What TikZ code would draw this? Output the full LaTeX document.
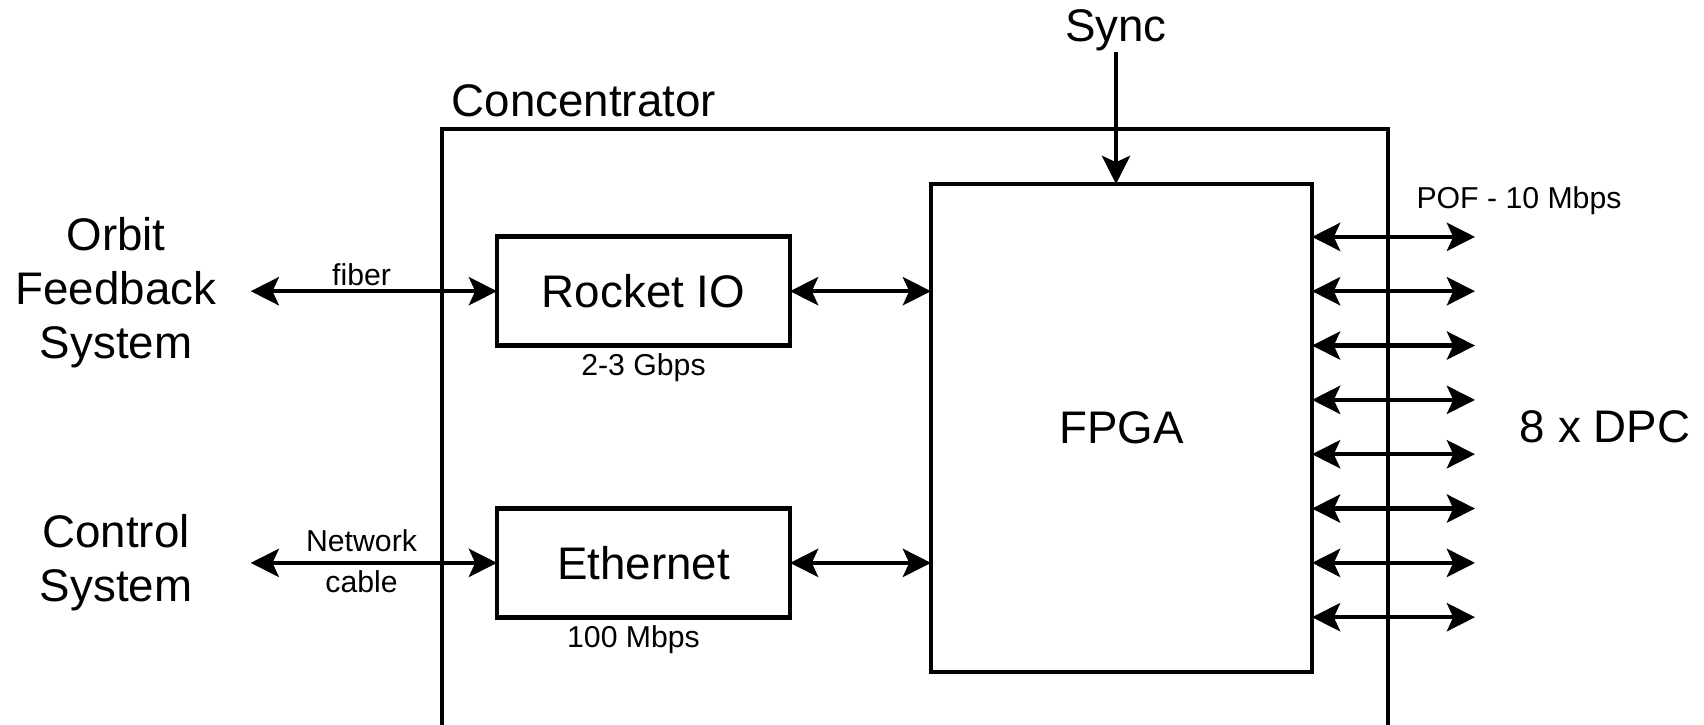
\documentclass[tikz,border=0pt]{standalone}
\usepackage{fontspec}
\setmainfont{Liberation Sans}
\usetikzlibrary{arrows.meta, calc, positioning}
\newcommand{\lineWidth}{1.25pt}
\newcommand{\bigFont}{\fontsize{13}{15.4}\selectfont}
\newcommand{\smallFont}{\fontsize{8.6}{10.8}\selectfont}
\newcommand{\portX}{14.75}
\newcommand{\portTop}{4.881}
\newcommand{\portStep}{0.5433}
\definecolor{lineColor}{RGB}{0, 0, 0}
\tikzset{>={Stealth[length=8pt, width=8pt, inset=1.8pt]}}
\tikzstyle{block}=[draw=lineColor, line width=\lineWidth, inner sep=0, outer sep=0, font=\bigFont]
\tikzstyle{textNode}=[draw=none, inner sep=0, align=center, text=lineColor, font=\bigFont]
\tikzstyle{smallText}=[draw=none, inner sep=0, align=center, text=lineColor, font=\smallFont]
\tikzstyle{line}=[draw=lineColor, line width=\lineWidth]
\tikzstyle{arrow}=[line, ->]
\tikzstyle{biarrow}=[line, <->]

\begin{document}
\begin{tikzpicture}[]

% Frame
\useasboundingbox (0,0) rectangle (17.04,7.25);

% Concentrator (runs off the bottom)
\node[block, anchor=north west, minimum width=9.46cm, minimum height=7cm] (concentrator) at (4.42,5.96) {};
\node[textNode, anchor=base west] (concLabel) at ($(concentrator.north west)+(0.09,0.125)$) {Concentrator};

% Blocks
\node[block, minimum width=3.81cm, minimum height=4.88cm] (fpga) at (11.215,2.97) {FPGA};
\node[block, minimum width=2.93cm, minimum height=1.09cm] (rocket) at (6.435,4.338) {Rocket IO};
\node[block, minimum width=2.93cm, minimum height=1.09cm] (ethernet) at (6.435,1.621) {Ethernet};
\node[smallText, below=0.07cm of rocket] (rocketRate) {2-3 Gbps};
\node[smallText, below=0.07cm of ethernet, xshift=-1mm] (ethRate) {100 Mbps};

% Outside systems
\node[textNode, minimum width=2.68cm] (orbit) at (1.16,4.32) {Orbit\\Feedback\\System};
\node[textNode, minimum width=2.68cm] (control) at (1.16,1.621) {Control\\System};

% Sync
\node[textNode, anchor=south] (sync) at (11.16,6.73) {Sync};
\draw[arrow] (sync.south) -- (sync.south |- fpga.north);

% Links
\draw[biarrow] (orbit.east |- rocket) -- (rocket)
  node[smallText, above=1pt, pos=0.45] {fiber};
\draw[biarrow] (control) -- (ethernet)
  node[smallText, above=2.5pt, pos=0.45] {Network}
  node[smallText, below=1.5pt, pos=0.45] {cable};
\draw[biarrow] (rocket) -- (fpga.west |- rocket);
\draw[biarrow] (ethernet) -- (fpga.west |- ethernet);

% DPC ports
\foreach \i in {1,...,8} {
  \coordinate (dpc\i) at ({\portX}, {\portTop-(\i-1)*\portStep});
  \draw[biarrow] (fpga.east |- dpc\i) -- (dpc\i);
  }
\node[smallText] (pofLabel) at (15.19,5.24) {POF - 10 Mbps};
\node[textNode] (dpcLabel) at (16.05,2.98) {8 x DPC};

\end{tikzpicture}
\end{document}
